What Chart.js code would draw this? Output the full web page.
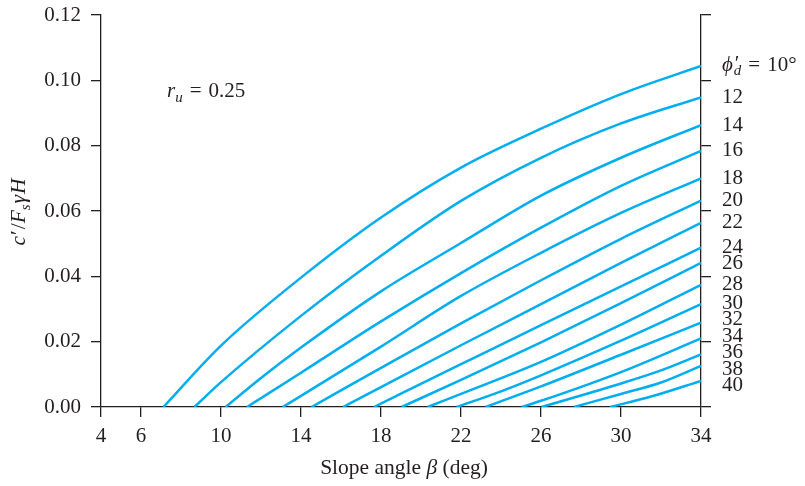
<!DOCTYPE html>
<html>
<head>
<meta charset="utf-8">
<script src="https://cdn.jsdelivr.net/npm/chart.js@4.4.1/dist/chart.umd.min.js"></script>
<style>
  html, body { margin: 0; padding: 0; background: #ffffff; }
  #wrap { width: 805px; height: 486px; }
</style>
</head>
<body>
<div id="wrap"><canvas id="c" width="805" height="486"></canvas></div>
<script>
// ---------------- data ----------------
const xTickValues = [4, 6, 10, 14, 18, 22, 26, 30, 34];
const yTickValues = [0, 0.02, 0.04, 0.06, 0.08, 0.10, 0.12];
const phiValues = [10, 12, 14, 16, 18, 20, 22, 24, 26, 28, 30, 32, 34, 36, 38, 40];
const ruValue = 0.25;

// [slope angle beta (deg), c'/(Fs gamma H)]
const curvePhi10 = [[7.12,0],[10,0.0188],[14,0.0396],[18,0.058],[22,0.0733],[26,0.0852],[30,0.0958],[34,0.1044]];
const curvePhi12 = [[8.67,0],[10,0.0076],[14,0.0279],[18,0.0463],[22,0.0631],[26,0.0763],[30,0.0868],[34,0.0948]];
const curvePhi14 = [[10.23,0],[12,0.0089],[14,0.0182],[18,0.0354],[22,0.0502],[26,0.0647],[30,0.0763],[34,0.0863]];
const curvePhi16 = [[11.3,0],[14,0.0105],[18,0.0262],[22,0.041],[26,0.0549],[30,0.0677],[34,0.0784]];
const curvePhi18 = [[13.08,0],[14,0.0034],[18,0.0185],[22,0.034],[26,0.0472],[30,0.0594],[34,0.070]];
const curvePhi20 = [[14.53,0],[18,0.012],[22,0.0256],[26,0.0388],[30,0.0515],[34,0.0632]];
const curvePhi22 = [[16.1,0],[18,0.0061],[22,0.0189],[26,0.0315],[30,0.0441],[34,0.0564]];
const curvePhi24 = [[17.65,0],[22,0.0131],[26,0.0251],[30,0.0369],[34,0.0488]];
const curvePhi26 = [[19.03,0],[22,0.0083],[26,0.0198],[30,0.0318],[34,0.0441]];
const curvePhi28 = [[20.33,0],[22,0.004],[26,0.0138],[30,0.0252],[34,0.0374]];
const curvePhi30 = [[21.78,0],[24,0.0048],[26,0.0097],[30,0.0203],[34,0.0315]];
const curvePhi32 = [[23.23,0],[26,0.0063],[30,0.016],[34,0.0258]];
const curvePhi34 = [[25.03,0],[26,0.0019],[30,0.0107],[34,0.021]];
const curvePhi36 = [[26.03,0],[30,0.0072],[32,0.0112],[34,0.0161]];
const curvePhi38 = [[27.65,0],[30,0.004],[32,0.0075],[34,0.0126]];
const curvePhi40 = [[29.45,0],[31.5,0.0032],[34,0.008]];

const curves = [curvePhi10, curvePhi12, curvePhi14, curvePhi16, curvePhi18, curvePhi20, curvePhi22, curvePhi24,
                curvePhi26, curvePhi28, curvePhi30, curvePhi32, curvePhi34, curvePhi36, curvePhi38, curvePhi40];

// ---------------- styling ----------------
const LINE = 'rgb(0,174,239)';
const INK = '#231f20';
const FAMILY = '"Liberation Serif", "Times New Roman", serif';
const FS = 21;
const EQ = '\u2004=\u2004';

function fontFor(p) {
  const size = p.sub ? 15 : (p.size || FS);
  return (p.i ? 'italic ' : '') + size + 'px ' + FAMILY;
}
function drawRich(ctx, parts, x, y, align) {
  let total = 0;
  const widths = parts.map(p => {
    ctx.font = fontFor(p);
    const w = p.noAdvance ? 0 : ctx.measureText(p.t).width + (p.dx || 0);
    total += w;
    return w;
  });
  let cx = align === 'center' ? x - total / 2 : x;
  parts.forEach((p, k) => {
    ctx.font = fontFor(p);
    ctx.fillText(p.t, cx + (p.dx || 0), y + (p.sub ? 5 : 0) + (p.dy || 0));
    cx += widths[k];
  });
}

const textPlugin = {
  id: 'texts',
  afterDraw(chart) {
    const ctx = chart.ctx;
    const xs = chart.scales.x, ys = chart.scales.y;
    const area = chart.chartArea;
    ctx.save();
    ctx.fillStyle = INK;
    ctx.textBaseline = 'alphabetic';

    // x axis title
    drawRich(ctx, [{t: 'Slope angle ', size: 21.5}, {t: 'β', i: true, size: 21.5}, {t: ' (deg)', size: 21.5}],
             (area.left + area.right) / 2 + 3, 474, 'center');

    // y axis title (rotated)
    ctx.save();
    ctx.translate(25, (area.top + area.bottom) / 2 + 1);
    ctx.rotate(-Math.PI / 2);
    drawRich(ctx, [{t: 'c', i: true, size: 21.5}, {t: '′', dx: 1, size: 21.5}, {t: '/', dx: 1, size: 21.5},
                   {t: 'F', i: true, size: 21.5}, {t: 's', i: true, sub: true}, {t: 'γ', i: true, dx: 1, size: 21.5},
                   {t: 'H', i: true, dx: 1, size: 21.5}], 0, 0, 'center');
    ctx.restore();

    // r_u label
    drawRich(ctx, [{t: 'r', i: true}, {t: 'u', i: true, sub: true}, {t: EQ + ruValue.toFixed(2)}],
             xs.getPixelForValue(7.3), ys.getPixelForValue(0.095), 'left');

    // curve labels on the right: start at each curve's end value, then spread apart
    const pos = curves.map(c => ys.getPixelForValue(c[c.length - 1][1]));
    const gap = 16.5;
    for (let it = 0; it < 200; it++) {
      for (let k = 0; k < pos.length - 1; k++) {
        const d = pos[k + 1] - pos[k];
        if (d < gap) { const s = (gap - d) / 2; pos[k] -= s; pos[k + 1] += s; }
      }
    }
    ctx.textBaseline = 'middle';
    const lx = area.right + 21;
    phiValues.forEach((v, k) => {
      if (k === 0) {
        drawRich(ctx, [{t: 'ϕ', i: true}, {t: '′', noAdvance: true, dx: 2, dy: -1}, {t: 'd', i: true, sub: true, dx: 1},
                       {t: EQ + v + '°'}], lx, pos[k], 'left');
      } else {
        ctx.font = FS + 'px ' + FAMILY;
        ctx.fillText(String(v), lx, pos[k]);
      }
    });
    ctx.restore();
  }
};

const axisGrid = { drawOnChartArea: false, drawTicks: true, tickLength: 10, color: INK, lineWidth: 1.3 };
const axisBorder = { display: true, color: INK, width: 1.3 };
const tickFont = { family: FAMILY, size: FS };
function noPad(s) { s.paddingTop = 0; s.paddingBottom = 0; }

new Chart(document.getElementById('c'), {
  type: 'line',
  data: {
    datasets: curves.map((c, k) => ({
      label: 'phi = ' + phiValues[k],
      data: c.map(([x, y]) => ({x, y})),
      borderColor: LINE,
      borderWidth: 2.5,
      pointRadius: 0,
      fill: false,
      cubicInterpolationMode: 'monotone',
      yAxisID: 'y'
    }))
  },
  options: {
    responsive: false,
    devicePixelRatio: 1,
    animation: false,
    layout: { padding: { top: 15, left: 0, right: 0, bottom: 0 } },
    plugins: { legend: { display: false }, tooltip: { enabled: false } },
    scales: {
      x: {
        type: 'linear', position: 'bottom', min: 4, max: 34,
        afterBuildTicks: s => { s.ticks = xTickValues.map(v => ({value: v})); },
        afterFit: s => { s.height = 79; },
        ticks: { font: tickFont, color: INK, padding: 7, maxRotation: 0, autoSkip: false },
        grid: axisGrid, border: axisBorder
      },
      y: {
        type: 'linear', position: 'left', min: 0, max: 0.12,
        afterBuildTicks: s => { s.ticks = yTickValues.map(v => ({value: v})); },
        afterFit: s => { s.width = 101; noPad(s); },
        ticks: { font: tickFont, color: INK, padding: 10, callback: v => Number(v).toFixed(2) },
        grid: axisGrid, border: axisBorder
      },
      y2: {
        type: 'linear', position: 'right', min: 0, max: 0.12,
        afterBuildTicks: s => { s.ticks = yTickValues.map(v => ({value: v})); },
        afterFit: s => { s.width = 104; noPad(s); },
        ticks: { display: false },
        grid: axisGrid, border: axisBorder
      }
    }
  },
  plugins: [textPlugin]
});
</script>
</body>
</html>
